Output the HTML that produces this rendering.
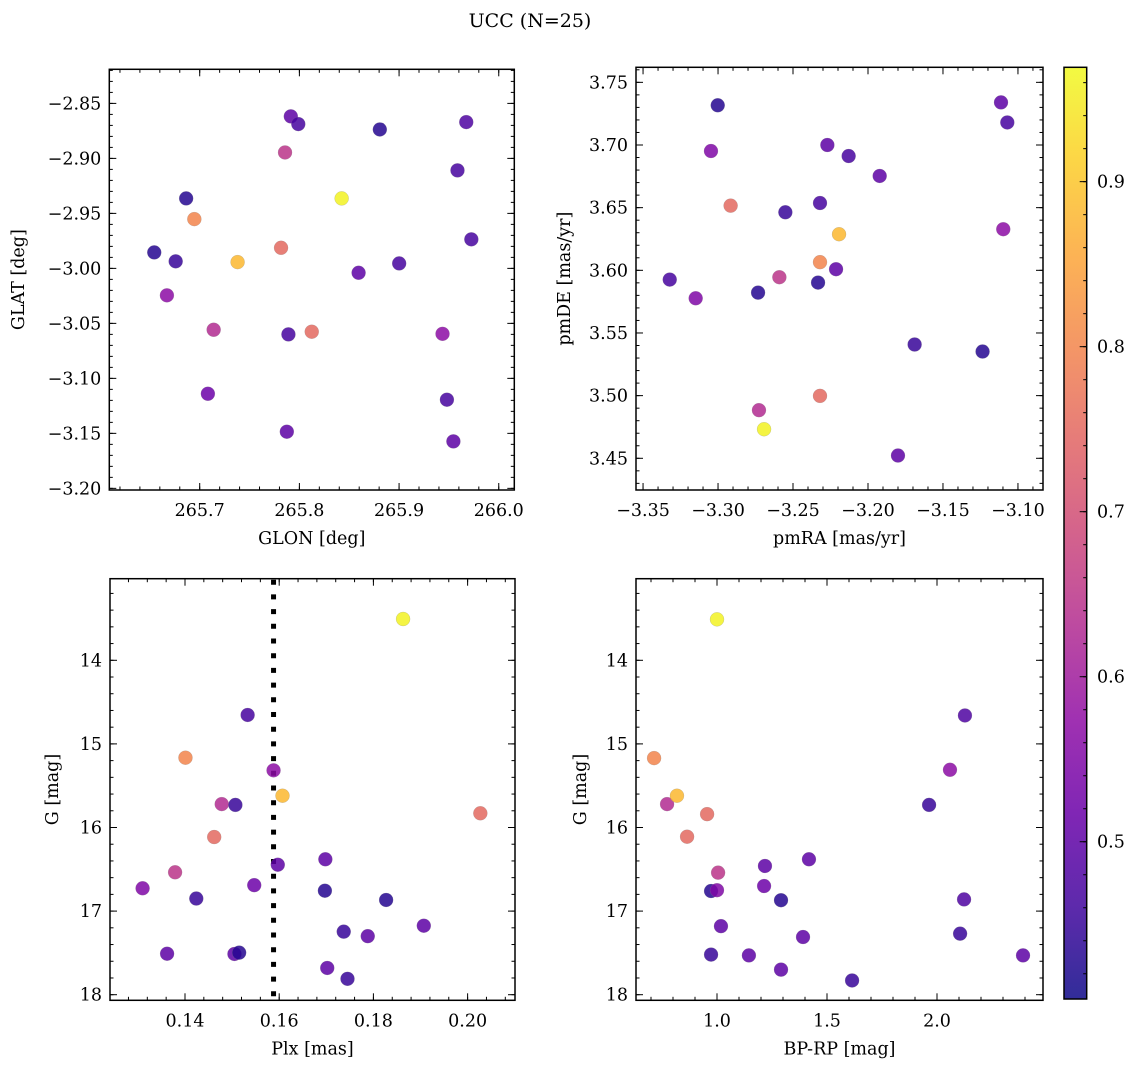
<!DOCTYPE html>
<html><head><meta charset="utf-8"><style>
html,body{margin:0;padding:0;background:#fff;}
svg{display:block;font-family:"DejaVu Serif","Liberation Serif",serif;}
</style></head><body>
<svg id="fig" width="1136" height="1067" viewBox="0 0 1136 1067" xmlns="http://www.w3.org/2000/svg">
<defs>
<linearGradient id="plasmaGrad" x1="0" y1="1" x2="0" y2="0"></linearGradient>
</defs>
<text x="530" y="27" text-anchor="middle" font-size="19">UCC (N=25)</text>
</svg>
<script>
// ---- data ----
const glon = [265.7914,265.7989,265.8807,265.9674,265.7856,265.9586,265.6864,265.8424,265.6946,265.9725,265.6544,265.6759,265.738,265.7816,265.8594,265.9001,265.6671,265.714,265.789,265.8124,265.9436,265.7082,265.948,265.7874,265.9545];
const glat = [-2.8618,-2.8688,-2.8737,-2.867,-2.8946,-2.9109,-2.9364,-2.9364,-2.9552,-2.9736,-2.9855,-2.9936,-2.9943,-2.9813,-3.004,-2.9955,-3.0245,-3.0558,-3.06,-3.0576,-3.0595,-3.114,-3.1194,-3.1485,-3.1573];
const probTL = [0.5,0.47,0.43,0.48,0.65,0.47,0.43,0.96,0.8,0.47,0.43,0.45,0.88,0.75,0.5,0.47,0.57,0.63,0.47,0.75,0.57,0.52,0.47,0.5,0.5];

const pmra = [-3.3002,-3.3047,-3.2271,-3.2129,-3.1922,-3.1113,-3.1071,-3.2916,-3.2551,-3.232,-3.2193,-3.1098,-3.232,-3.2213,-3.2591,-3.2333,-3.3322,-3.3149,-3.2733,-3.1689,-3.1236,-3.232,-3.2727,-3.2693,-3.18];
const pmde = [3.7317,3.6952,3.700,3.6912,3.6753,3.734,3.718,3.6516,3.6463,3.6537,3.6288,3.6328,3.6065,3.6009,3.5945,3.5902,3.5926,3.5777,3.5822,3.5408,3.5352,3.4998,3.4884,3.4732,3.4522];
const probTR = [0.43,0.55,0.5,0.47,0.5,0.5,0.47,0.75,0.45,0.47,0.88,0.57,0.8,0.5,0.65,0.43,0.47,0.55,0.43,0.45,0.43,0.75,0.63,0.96,0.5];

const plx = [0.1863,0.1401,0.1533,0.1588,0.1607,0.1478,0.1507,0.2027,0.1462,0.1698,0.1597,0.1379,0.1310,0.1547,0.1697,0.1424,0.1827,0.1907,0.1737,0.1788,0.1362,0.1505,0.1515,0.1702,0.1745];
const gmagBL = [13.506,15.165,14.654,15.316,15.62,15.72,15.73,15.83,16.114,16.38,16.445,16.536,16.727,16.69,16.756,16.85,16.867,17.175,17.246,17.30,17.51,17.513,17.497,17.68,17.81];
const probBL = [0.96,0.8,0.47,0.57,0.88,0.63,0.45,0.75,0.75,0.5,0.5,0.65,0.55,0.52,0.43,0.45,0.43,0.5,0.45,0.5,0.5,0.5,0.43,0.5,0.45];
const plxCut = [0.1588];

const bprp = [1.000,0.714,2.127,2.059,1.964,0.773,0.818,0.955,0.864,1.418,1.218,1.005,0.973,1.000,1.214,1.291,2.123,1.018,1.391,2.105,0.973,1.145,2.391,1.291,1.614];
const gmagBR = [13.51,15.17,14.66,15.31,15.73,15.72,15.62,15.84,16.11,16.38,16.46,16.54,16.76,16.75,16.70,16.87,16.86,17.18,17.31,17.27,17.52,17.53,17.53,17.70,17.83];
const probBR = [0.96,0.8,0.48,0.57,0.45,0.63,0.88,0.75,0.75,0.5,0.5,0.65,0.43,0.55,0.52,0.43,0.48,0.5,0.5,0.45,0.45,0.5,0.5,0.5,0.45];

const tlXTicks = [265.7,265.8,265.9,266.0];
const tlYTicks = [-3.20,-3.15,-3.10,-3.05,-3.00,-2.95,-2.90,-2.85];
const trXTicks = [-3.35,-3.30,-3.25,-3.20,-3.15,-3.10];
const trYTicks = [3.45,3.50,3.55,3.60,3.65,3.70,3.75];
const blXTicks = [0.14,0.16,0.18,0.20];
const gTicks = [14,15,16,17,18];
const brXTicks = [1.0,1.5,2.0];
const cbTicks = [0.5,0.6,0.7,0.8,0.9];

const VMIN = 0.4047, VMAX = 0.9693;
const NS = "http://www.w3.org/2000/svg";
const svg = document.getElementById('fig');

const plasma = ["#0d0887","#41049d","#6a00a8","#8f0da4","#b12a90","#cc4778","#e16462","#f2844b","#fca636","#fcce25","#f0f921"];
function hex(h){return [1,3,5].map(i=>parseInt(h.substr(i,2),16));}
function cmap(p){
  let t=Math.max(0,Math.min(1,(p-VMIN)/(VMAX-VMIN)))*10;
  let i=Math.min(9,Math.floor(t)), f=t-i;
  const a=hex(plasma[i]), b=hex(plasma[i+1]);
  return 'rgb('+a.map((v,k)=>Math.round(v+(b[k]-v)*f)).join(',')+')';
}
function mk(tag, attrs, parent){
  const e=document.createElementNS(NS,tag);
  for(const k in attrs) e.setAttribute(k,attrs[k]);
  (parent||svg).appendChild(e); return e;
}
function fmt(v,d){return (v<0?'\u2212':'')+Math.abs(v).toFixed(d);}

function panel(cfg){
  const g=mk('g',{});
  
  
  const sx=v=>cfg.bx0+(v-cfg.xmin)/(cfg.xmax-cfg.xmin)*(cfg.bx1-cfg.bx0);
  const sy=v=>cfg.by1-(v-cfg.ymin)/(cfg.ymax-cfg.ymin)*(cfg.by1-cfg.by0);
  // ticks
  const tg=mk('g',{stroke:'#000','stroke-width':1},g);
  function minorRange(lo,hi,step,fn){
    const s=Math.ceil(lo/step-1e-6), e=Math.floor(hi/step+1e-6);
    for(let k=s;k<=e;k++) fn(k*step);
  }
  const lo=Math.min(cfg.xmin,cfg.xmax),hi=Math.max(cfg.xmin,cfg.xmax);
  minorRange(lo,hi,cfg.xminor,v=>{const x=sx(v);
    mk('line',{x1:x,x2:x,y1:cfg.by1,y2:cfg.by1-3.5},tg);mk('line',{x1:x,x2:x,y1:cfg.by0,y2:cfg.by0+3.5},tg);});
  const ylo=Math.min(cfg.ymin,cfg.ymax),yhi=Math.max(cfg.ymin,cfg.ymax);
  minorRange(ylo,yhi,cfg.yminor,v=>{const y=sy(v);
    mk('line',{x1:cfg.bx0,x2:cfg.bx0+3.5,y1:y,y2:y},tg);mk('line',{x1:cfg.bx1,x2:cfg.bx1-3.5,y1:y,y2:y},tg);});
  cfg.xticks.forEach(v=>{const x=sx(v);
    mk('line',{x1:x,x2:x,y1:cfg.by1,y2:cfg.by1-7},tg);mk('line',{x1:x,x2:x,y1:cfg.by0,y2:cfg.by0+7},tg);
    const t=mk('text',{x:x,y:cfg.by1+26,'text-anchor':'middle','font-size':17.5},g);
    
    
    t.textContent=fmt(v,cfg.xdec);});
  cfg.yticks.forEach(v=>{const y=sy(v);
    mk('line',{x1:cfg.bx0,x2:cfg.bx0+7,y1:y,y2:y},tg);mk('line',{x1:cfg.bx1,x2:cfg.bx1-7,y1:y,y2:y},tg);
    const t=mk('text',{x:cfg.bx0-8,y:y+6,'text-anchor':'end','font-size':17.5},g);
    
    
    t.textContent=fmt(v,cfg.ydec);});
  // extra line
  if(cfg.vline){
    const l=mk('line',{x1:sx(cfg.vline[0]),x2:sx(cfg.vline[0]),y1:cfg.by0+1,y2:cfg.by1,stroke:'#000','stroke-width':5,'stroke-dasharray':'5 9.7'},g);
    
    
  }
  // points
  cfg.xs.forEach((v,i)=>{
    const c=mk('circle',{cx:sx(v),cy:sy(cfg.ys[i]),r:7,fill:cmap(cfg.ps[i]),'fill-opacity':0.85,stroke:'#888','stroke-width':0.4,'stroke-opacity':0.5},g);
    
    
  });
  // frame
  const fr=mk('rect',{x:cfg.bx0,y:cfg.by0,width:cfg.bx1-cfg.bx0,height:cfg.by1-cfg.by0,fill:'none',stroke:'#000','stroke-width':1.5},g);
  
  
  const xl=mk('text',{x:(cfg.bx0+cfg.bx1)/2,y:cfg.by1+54,'text-anchor':'middle','font-size':17.5},g);
  
  
  xl.textContent=cfg.xlabel;
  const cy=(cfg.by0+cfg.by1)/2;
  const yl=mk('text',{x:cfg.ylx,y:cy,'text-anchor':'middle','font-size':17.5,transform:'rotate(-90 '+cfg.ylx+' '+cy+')'},g);
  
  
  yl.textContent=cfg.ylabel;
}

panel({name:'glon-glat-panel',bx0:109.3,bx1:514.3,by0:69.3,by1:490,xmin:265.6093,xmax:266.0156,ymin:-3.2015,ymax:-2.819,
  xticks:tlXTicks,yticks:tlYTicks,xminor:0.02,yminor:0.01,xdec:1,ydec:2,xs:glon,ys:glat,ps:probTL,xlabel:'GLON [deg]',ylabel:'GLAT [deg]',ylx:24});
panel({name:'pm-panel',bx0:636,bx1:1043,by0:67.3,by1:490,xmin:-3.3547,xmax:-3.0833,ymin:3.4247,ymax:3.762,
  xticks:trXTicks,yticks:trYTicks,xminor:0.01,yminor:0.01,xdec:2,ydec:2,xs:pmra,ys:pmde,ps:probTR,xlabel:'pmRA [mas/yr]',ylabel:'pmDE [mas/yr]',ylx:570});
panel({name:'plx-g-panel',bx0:110,bx1:515,by0:578.7,by1:1000.3,xmin:0.12408,xmax:0.21006,ymin:18.067,ymax:13.024,
  xticks:blXTicks,yticks:gTicks,xminor:0.004,yminor:0.2,xdec:2,ydec:0,xs:plx,ys:gmagBL,ps:probBL,xlabel:'Plx [mas]',ylabel:'G [mag]',ylx:58,vline:plxCut});
panel({name:'cmd-panel',bx0:636,bx1:1043,by0:578.7,by1:1000.3,xmin:0.6318,xmax:2.4818,ymin:18.067,ymax:13.024,
  xticks:brXTicks,yticks:gTicks,xminor:0.1,yminor:0.2,xdec:1,ydec:0,xs:bprp,ys:gmagBR,ps:probBR,xlabel:'BP-RP [mag]',ylabel:'G [mag]',ylx:586});

// colorbar
const grad=document.getElementById('plasmaGrad');
for(let k=0;k<=20;k++){
  const p=VMIN+(VMAX-VMIN)*k/20;
  mk('stop',{offset:(k/20),'stop-color':cmap(p),'stop-opacity':0.85},grad);
}
const cb=mk('g',{});


const CB={x0:1064,x1:1086.7,y0:67.3,y1:999};
const cy=v=>CB.y1-(v-VMIN)/(VMAX-VMIN)*(CB.y1-CB.y0);
mk('rect',{x:CB.x0,y:CB.y0,width:CB.x1-CB.x0,height:CB.y1-CB.y0,fill:'url(#plasmaGrad)'},cb);
for(let k=Math.ceil(VMIN/0.02);k*0.02<=VMAX;k++){const y=cy(k*0.02);
  mk('line',{x1:CB.x1,x2:CB.x1-3.5,y1:y,y2:y,stroke:'#000','stroke-width':1},cb);}
cbTicks.forEach(v=>{const y=cy(v);
  mk('line',{x1:CB.x1,x2:CB.x1-7,y1:y,y2:y,stroke:'#000','stroke-width':1},cb);
  const t=mk('text',{x:1097,y:y+6,'font-size':17.5},cb);
  
  
  t.textContent=v.toFixed(1);});
mk('rect',{x:CB.x0,y:CB.y0,width:CB.x1-CB.x0,height:CB.y1-CB.y0,fill:'none',stroke:'#000','stroke-width':1.5},cb);
</script>
</body></html>
